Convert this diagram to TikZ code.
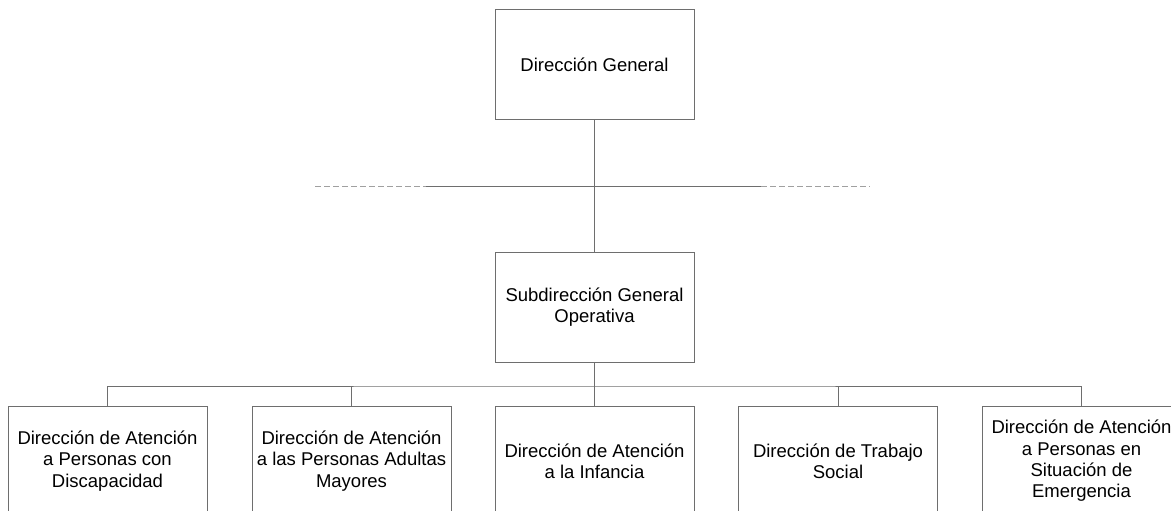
\documentclass[tikz,border=0pt]{standalone}
\usepackage{fontspec}
\setmainfont{Liberation Sans}
\definecolor{linegray}{RGB}{110,110,110}
\definecolor{dashgray}{RGB}{160,160,160}
\begin{document}
\begin{tikzpicture}[x=1pt,y=-1pt,
  box/.style={draw=linegray, line width=1pt, minimum width=199pt, minimum height=110pt,
    inner sep=0pt, align=center, font=\fontsize{18.5}{21.3}\selectfont},
  conn/.style={draw=linegray, line width=1pt},
  staffdash/.style={draw=dashgray, line width=1pt, dash pattern=on 6pt off 3pt}]
\useasboundingbox (0,0) rectangle (1171,511);
\clip (0,0) rectangle (1171,511);

% top level
\node[box, minimum height=109pt] (dg) at (594.5,64.5) {Dirección General};
\node[box] (sgo) at (594.5,307) {Subdirección General\\Operativa};

% directorates
\node[box] (d1) at (107.5,461) {Dirección de Atención\\a Personas con\\Discapacidad};
\node[box] (d2) at (351.5,461) {Dirección de Atención\\a las Personas Adultas\\Mayores};
\node[box] (d3) at (594.5,461) {Dirección de Atención\\a la Infancia};
\node[box] (d4) at (838,461) {Dirección de Trabajo\\Social};
\node[box] (d5) at (1081.5,461) {Dirección de Atención\\a Personas en\\Situación de\\Emergencia};

% staff line across the main vertical
\coordinate (dl) at (315,186);
\coordinate (sl) at (426,186);
\coordinate (sr) at (761,186);
\coordinate (dr) at (870,186);
\draw[staffdash] (dl) -- (sl);
\draw[staffdash] (sr) -- (dr);
\draw[conn] (sl) -- (sr);

% hierarchy
\draw[conn] (dg) -- (sgo);
\coordinate (bus) at (594.5,386);
\draw[conn] (sgo) -- (d3);
\draw[conn] (d1.north) |- (bus) -| (d5.north);
\draw[conn] (d2.north) -- (d2.north |- bus);
\draw[conn] (d4.north) -- (d4.north |- bus);
\end{tikzpicture}
\end{document}
